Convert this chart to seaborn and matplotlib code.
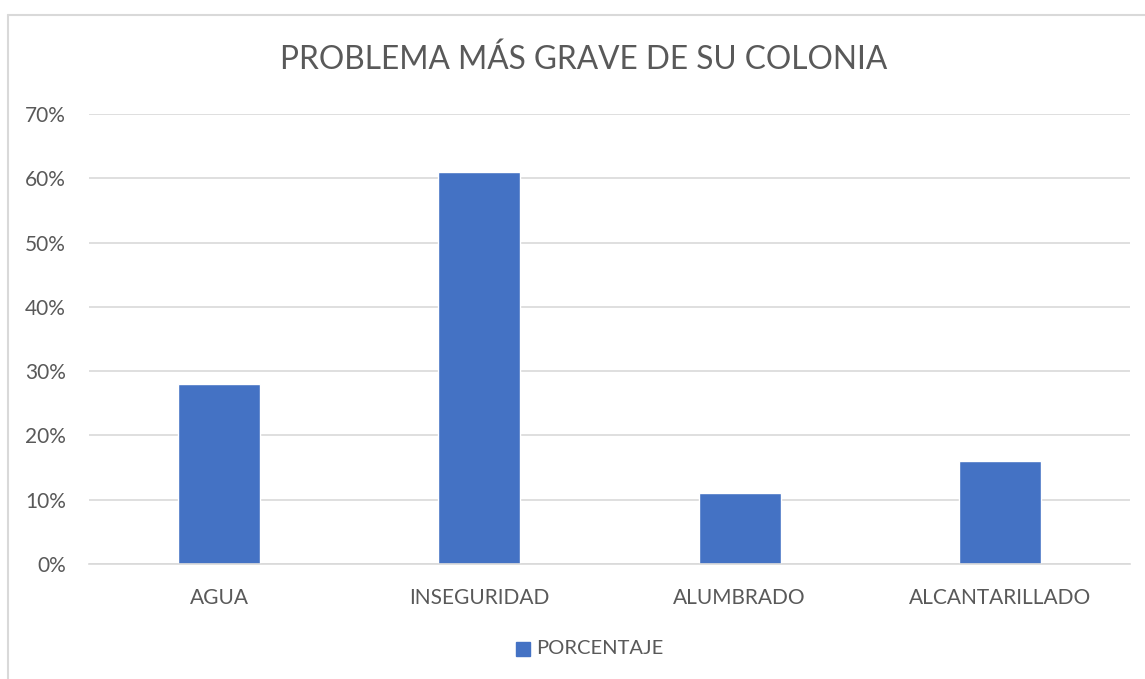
import matplotlib
matplotlib.use("Agg")
import matplotlib.pyplot as plt
import seaborn as sns
import pandas as pd
from matplotlib.patches import Rectangle
from matplotlib.lines import Line2D
from matplotlib.ticker import PercentFormatter

categories = ["AGUA", "INSEGURIDAD", "ALUMBRADO", "ALCANTARILLADO"]
porcentaje = [0.28, 0.61, 0.11, 0.16]
yticks = [0, 0.1, 0.2, 0.3, 0.4, 0.5, 0.6, 0.7]
title = "PROBLEMA MÁS GRAVE DE SU COLONIA"
series_name = "PORCENTAJE"

sns.set_theme(style="white")
plt.rcParams["font.family"] = ["Lato", "DejaVu Sans"]

TEXT = "#595959"
GRID = "#d9d9d9"
BAR = "#4472C4"

W, H = 1145, 679
fig = plt.figure(figsize=(W / 100, H / 100), dpi=100)
fig.patch.set_facecolor("white")

# chart frame (top and left edges visible)
fig.add_artist(Line2D([7.5 / W, 7.5 / W], [0, 1 - 15 / H], transform=fig.transFigure,
                      color=GRID, lw=1.5))
fig.add_artist(Line2D([7.5 / W, 1], [1 - 15 / H, 1 - 15 / H], transform=fig.transFigure,
                      color=GRID, lw=1.5))

ax = fig.add_axes([89 / W, 1 - 564 / H, (1130 - 89) / W, (564 - 114) / H])
df = pd.DataFrame({"cat": categories, "val": porcentaje})
sns.barplot(data=df, x="cat", y="val", color=BAR, width=0.315, saturation=1,
            ax=ax, zorder=3)

ax.set_ylim(0, 0.7)
ax.set_xlim(-0.5, len(categories) - 0.5)
ax.set_yticks(yticks)
ax.yaxis.set_major_formatter(PercentFormatter(1.0, decimals=0))
ax.grid(axis="y", color=GRID, lw=1.2, zorder=0)
ax.grid(axis="x", visible=False)
for s in ["top", "right", "left"]:
    ax.spines[s].set_visible(False)
ax.spines["bottom"].set_color(GRID)
ax.spines["bottom"].set_linewidth(1.2)
ax.spines["bottom"].set_zorder(4)
ax.set_xlabel("")
ax.set_ylabel("")
ax.tick_params(axis="both", length=0, colors=TEXT, labelsize=15)
ax.tick_params(axis="y", pad=16.5)
ax.tick_params(axis="x", pad=17)

fig.text(584 / W, 1 - 60 / H, title, ha="center", va="center",
         fontsize=22.8, color=TEXT)

# legend
fig.add_artist(Rectangle((516 / W, 1 - 656 / H), 14 / W, 14 / H,
                         transform=fig.transFigure, color=BAR))
fig.text(536 / W, 1 - 649 / H, series_name, ha="left", va="center",
         fontsize=14.5, color=TEXT)

fig.savefig("out.png", dpi=100, facecolor="white")
